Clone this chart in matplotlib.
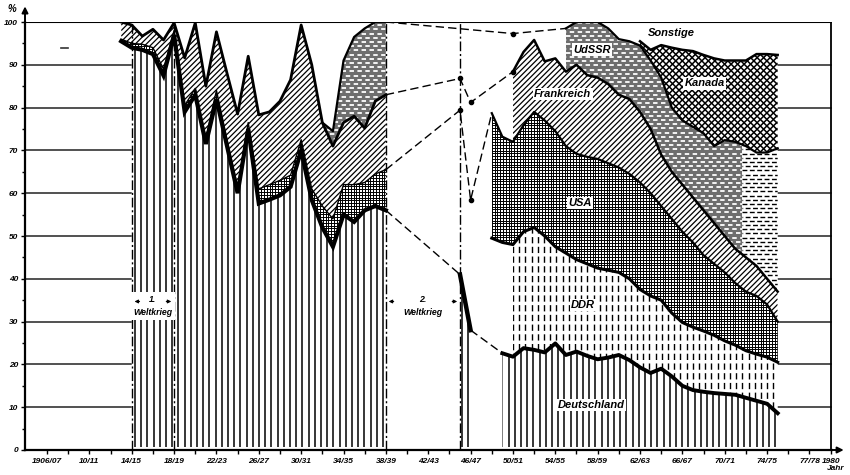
import numpy as np
import matplotlib
matplotlib.use('Agg')
import matplotlib.pyplot as plt
from matplotlib.patches import Polygon
from matplotlib.collections import LineCollection

plt.rcParams['lines.scale_dashes'] = False
plt.rcParams['font.family'] = ['Liberation Sans', 'DejaVu Sans']

# ---------------- data (cumulative upper boundaries, % of world production) -------------
years_a = list(range(1913, 1939))
de_top_a = [95.5, 94, 93.5, 92.5, 87.5, 97, 79, 83, 71.5, 82, 71, 60, 75, 57.6, 58.5, 59.5,
            61.5, 70, 58.4, 52, 47.5, 55, 53.3, 56, 57, 56]
usa_top_a = [96, 95, 94.8, 94, 89, 98, 80.5, 84.5, 73, 84, 72.5, 61.5, 76.5, 61, 62, 63,
             64.2, 72.5, 61, 57, 54, 62, 62, 62.5, 64.5, 65.5]
fr_top_a = [100, 99.3, 96.7, 98.3, 95.8, 99.8, 91.6, 99.8, 85, 97.7, 88, 78.5, 92, 78.3, 79,
            81.5, 86.5, 99.3, 90, 76.5, 71, 76.5, 78, 75.2, 81.5, 83]
ussr_years_a = list(range(1932, 1939))
ussr_top_a = [76.5, 74.5, 91, 96.5, 98.5, 100, 100]

war_years = [1945, 1946]
de_war = [41, 28]
usa_war = [79.4, 58.4]
fr_war = [86.8, 81.2]
top_1950 = 97.3

years_c = list(range(1948, 1976))
usa_top_c = [78.7, 73.2, 72, 75.9, 79, 77, 74.5, 71, 69.2, 68.5, 68, 67, 66, 64.5, 62.5, 60,
             57, 54, 51, 48.5, 45.5, 43.5, 41.5, 39, 37, 36, 34, 30]
ddr_top_c = [49.5, 48.5, 48, 51, 52, 50, 47.5, 46, 44.5, 43.5, 42.5, 42, 41.5, 40, 37.5, 36,
             35, 32, 29.8, 28.7, 27.8, 26.8, 25.5, 24.5, 23.2, 22.4, 21.7, 20.5]
de_years_c = list(range(1949, 1976))
de_top_c = [22.6, 21.8, 23.8, 23.4, 22.8, 24.9, 22.2, 23, 22, 21.2, 21.6, 22.2, 21, 19.3, 18,
            19, 17.2, 15, 14, 13.6, 13.3, 13.1, 12.9, 12.2, 11.5, 10.8, 8.6]
fr_years_c = list(range(1950, 1976))
fr_top_c = [88.4, 93, 95.8, 90.8, 91.5, 88.4, 90, 87.6, 87, 85.5, 83, 82, 79, 75, 69, 65, 62,
            59, 56, 53, 50, 47, 45, 43, 40, 37]
ussr_years_c = list(range(1955, 1976))
ussr_top_c = [98.5, 100, 100, 100, 98.5, 96, 95.5, 94.5, 91, 87, 80, 77, 75.5, 74, 71, 72.4,
              72, 71, 69.5, 69.5, 70.5]
ca_years = list(range(1962, 1976))
ca_top = [95.5, 93.5, 94.6, 94, 93.5, 93.2, 92.3, 91.5, 91, 91, 91, 92.5, 92.5, 92.3]

war_lines = [1914, 1918, 1938, 1945]
xt_years = [1906, 1910, 1914, 1918, 1922, 1926, 1930, 1934, 1938, 1942, 1946, 1950, 1954,
            1958, 1962, 1966, 1970, 1974, 1978, 1980]
xt_labels = ['1906/07', '10/11', '14/15', '18/19', '22/23', '26/27', '30/31', '34/35',
             '38/39', '42/43', '46/47', '50/51', '54/55', '58/59', '62/63', '66/67',
             '70/71', '74/75', '77/78', '1980']
yt = list(range(0, 101, 10))

# ---------------- figure ----------------
fig = plt.figure(figsize=(8.5, 4.75), dpi=100)
ax = fig.add_axes([25 / 850, 25 / 475, (832 - 25) / 850, 428 / 475])
X0, X1 = 1903.92, 1980.13
ax.set_xlim(X0, X1)
ax.set_ylim(0, 100)
for s in ['top', 'right']:
    ax.spines[s].set_visible(False)
ax.spines['left'].set_linewidth(1.6)
ax.spines['bottom'].set_linewidth(1.6)

p0 = ax.transData.transform((0, 0))
p1 = ax.transData.transform((1, 1))
PPX, PPY = p1[0] - p0[0], p1[1] - p0[1]


def sl(yrs, vals, a, b):
    idx = [i for i, y in enumerate(yrs) if a <= y <= b]
    return np.array([yrs[i] for i in idx], float), np.array([vals[i] for i in idx], float)


def patch(x, lo, hi, fc='white'):
    x = np.asarray(x, float)
    v = np.concatenate([np.column_stack([x, lo]), np.column_stack([x[::-1], np.asarray(hi)[::-1]])])
    p = Polygon(v, closed=True, facecolor=fc, edgecolor='none', zorder=1)
    ax.add_patch(p)
    return p


def add_lc(segs, clip, lw, ls='-', color='k', z=2):
    lc = LineCollection(segs, colors=color, linewidths=lw, linestyles=ls, zorder=z)
    ax.add_collection(lc)
    lc.set_clip_path(clip)
    return lc


def vpat(clip, x0, x1, sp, lw, ls='-', color='k', y0=0.8, y1=100):
    xs = np.arange(x0, x1 + 1e-6, sp / PPX)
    add_lc([[(x, y0), (x, y1)] for x in xs], clip, lw, ls, color)


def hpat(clip, x0, x1, y0, y1, sp, lw, ls='-', color='k'):
    ys = np.arange(y0, y1 + 1e-6, sp / PPY)
    add_lc([[(x0, y), (x1, y)] for y in ys], clip, lw, ls, color)


def dpat(clip, x0, x1, y0, y1, sp, lw, slope=1, color='k'):
    W = (x1 - x0) * PPX
    H = (y1 - y0) * PPY
    step = sp * np.sqrt(2)
    cs = np.arange(-W - step, H + W + step, step)
    segs = []
    for c in cs:
        if slope > 0:
            Ya, Yb = c, W + c
        else:
            Ya, Yb = c, c - W
        segs.append([(x0, y0 + Ya / PPY), (x1, y0 + Yb / PPY)])
    add_lc(segs, clip, lw, '-', color)


def cross(clip, x0, x1, y0, y1, sp, lw):
    vpat(clip, x0, x1, sp, lw, y0=y0, y1=y1)
    hpat(clip, x0, x1, y0, y1, sp, lw)


def ussr_fill(clip, x0, x1, y0, y1, split):
    # grey part with white dashes, later part white with black dashes
    xe = min(split, x1)
    g = ax.fill_between([x0, xe], y0, y1, color='#6e6e6e', lw=0, zorder=1.5)
    g.set_clip_path(clip)
    ys = np.arange(y0, y1 + 1e-6, 4.2 / PPY)
    for i, y in enumerate(ys):
        off = 0 if i % 2 == 0 else 3
        add_lc([[(x0, y), (xe, y)]], clip, 1.3, (off, (3.2, 2.5)), 'white')
        if split < x1:
            add_lc([[(split, y), (x1, y)]], clip, 1.0, (off, (3.5, 1.8)), 'black')


# ---------------- gridlines / frame ----------------
for v in yt[1:-1]:
    ax.plot([X0, years_a[1]], [v, v], color='#222222', lw=1.1, zorder=0.5)
    ax.plot([years_c[-1], 1980], [v, v], color='#222222', lw=1.1, zorder=0.5)
ax.plot([X0, 1980], [100, 100], color='k', lw=1.5, zorder=4)
ax.plot([1980, 1980], [0, 100], color='k', lw=1.3, zorder=4)
ax.plot([1907.3, 1908.0], [93.9, 93.9], color='#333333', lw=1.2, zorder=1)
for wy in war_lines:
    ax.plot([wy, wy], [0, 100], color='k', lw=1.0, ls=(0, (7, 2, 1.5, 2)), zorder=3.5)

# ---------------- period 1913-1938 ----------------
xa = np.array(years_a, float)
xd, d = sl(years_a, de_top_a, 1914, 1938)
pd_ = patch(xd, np.zeros_like(d), d)
vpat(pd_, 1914.3, 1938, 6.2, 1.1)
pu = patch(xa, de_top_a, usa_top_a)
cross(pu, 1913, 1938, 40, 100, 2.8, 0.7)
pf = patch(xa, usa_top_a, fr_top_a)
dpat(pf, 1913, 1938, 40, 100, 3.9, 0.9, slope=1)
fr_sub = sl(years_a, fr_top_a, 1932, 1938)[1]
pr = patch(ussr_years_a, fr_sub, ussr_top_a)
ussr_fill(pr, 1932, 1938, 60, 100, 2000)

ax.plot(xa, de_top_a, color='k', lw=3.0, zorder=3, solid_joinstyle='miter')
ax.plot(xa, usa_top_a, color='k', lw=1.0, zorder=3)
ax.plot(xa, fr_top_a, color='k', lw=2.0, zorder=3)
ax.plot(ussr_years_a, ussr_top_a, color='k', lw=1.6, zorder=3)

# ---------------- war years ----------------
pw = patch(war_years, [0, 0], de_war)
vpat(pw, 1945.2, 1946, 6.2, 1.1)
ax.plot(war_years, de_war, color='k', lw=3.2, zorder=3)

# ---------------- period 1948-1975 ----------------
xc = np.array(years_c, float)
pdc = patch(de_years_c, np.zeros(len(de_top_c)), de_top_c)
vpat(pdc, 1949, 1975, 6.2, 1.1)
xddr, ddr = sl(years_c, ddr_top_c, 1950, 1975)
pddr = patch(xddr, de_top_c[1:], ddr)
vpat(pddr, 1950, 1975, 6.2, 1.0, ls=(0, (4.5, 2.5)))
puc = patch(xc, ddr_top_c, usa_top_c)
cross(puc, 1948, 1975, 15, 85, 2.8, 0.7)
xf, ulo = sl(years_c, usa_top_c, 1950, 1975)
pfc = patch(fr_years_c, ulo, fr_top_c)
dpat(pfc, 1950, 1975, 25, 100, 3.9, 0.9, slope=1)
_, flo = sl(fr_years_c, fr_top_c, 1955, 1975)
prc = patch(ussr_years_c, flo, ussr_top_c)
ussr_fill(prc, 1955, 1975, 30, 100, 1971.6)
_, rlo = sl(ussr_years_c, ussr_top_c, 1962, 1975)
pca = patch(ca_years, rlo, ca_top)
pca.set_zorder(1.8)
dpat(pca, 1962, 1975, 60, 100, 4.6, 1.1, slope=1)
dpat(pca, 1962, 1975, 60, 100, 4.6, 1.1, slope=-1)

ax.plot(de_years_c, de_top_c, color='k', lw=2.8, zorder=3)
ax.plot(years_c, ddr_top_c, color='k', lw=2.2, zorder=3)
ax.plot(years_c, usa_top_c, color='k', lw=1.6, zorder=3)
ax.plot(fr_years_c, fr_top_c, color='k', lw=1.8, zorder=3)
ax.plot(ussr_years_c, ussr_top_c, color='k', lw=1.6, zorder=3)
ax.plot(ca_years, ca_top, color='k', lw=1.8, zorder=3)

# ---------------- dashed connectors ----------------
dash = (0, (6, 3))
ax.plot([years_a[-1], war_years[0]], [de_top_a[-1], de_war[0]], color='k', lw=1.0, ls=dash, zorder=3)
ax.plot([war_years[1], de_years_c[0]], [de_war[1], de_top_c[0]], color='k', lw=1.0, ls=dash, zorder=3)
ax.plot([years_a[-1]] + war_years + [years_c[0]], [usa_top_a[-1]] + usa_war + [usa_top_c[0]],
        color='k', lw=1.0, ls=dash, zorder=3)
ax.plot(war_years, usa_war, 'o', color='k', ms=3, zorder=3)
ax.plot([years_a[-1]] + war_years + [fr_years_c[0]], [fr_top_a[-1]] + fr_war + [fr_top_c[0]],
        color='k', lw=1.0, ls=dash, zorder=3)
ax.plot(war_years + [fr_years_c[0]], fr_war + [fr_top_c[0]], 'o', color='k', ms=3, zorder=3)
ax.plot([years_a[-1], 1950, ussr_years_c[0]], [ussr_top_a[-1], top_1950, ussr_top_c[0]],
        color='k', lw=1.0, ls=dash, zorder=3)
ax.plot([1950], [top_1950], 'o', color='k', ms=3, zorder=3)

# ---------------- labels ----------------
lab = dict(fontsize=8, fontweight='bold', fontstyle='italic', ha='center', va='center', zorder=6)
box = dict(facecolor='white', edgecolor='none', pad=1.0)
ax.text(1965.0, 97.4, 'Sonstige', **lab)
ax.text(1957.5, 93.5, 'UdSSR', bbox=box, **lab)
ax.text(1968.1, 85.7, 'Kanada', bbox=box, **lab)
ax.text(1954.7, 83.2, 'Frankreich', bbox=box, **lab)
ax.text(1956.3, 57.7, 'USA', bbox=box, **lab)
ax.text(1956.6, 33.9, 'DDR', bbox=box, **lab)
ax.text(1957.4, 10.5, 'Deutschland', bbox=box, **lab)

small = dict(fontsize=6.3, fontweight='bold', fontstyle='italic', ha='center', va='center', zorder=6)
for (a, b) in [(1914, 1918), (1938, 1945)]:
    c = (a + b) / 2
    ax.text(c, 33.6, '%d.\nWeltkrieg' % (1 if a == 1914 else 2), linespacing=1.6,
            bbox=dict(facecolor='white', edgecolor='none', pad=2.0), **small)
    ax.annotate('', xy=(a, 34.7), xytext=(a + 1.0, 34.7),
                arrowprops=dict(arrowstyle='-|>', lw=0.8, color='k', mutation_scale=5), zorder=7)
    ax.annotate('', xy=(b, 34.7), xytext=(b - 1.0, 34.7),
                arrowprops=dict(arrowstyle='-|>', lw=0.8, color='k', mutation_scale=5), zorder=7)

# axes arrows
ax.annotate('', xy=(X0, 104.3), xytext=(X0, 99), annotation_clip=False,
            arrowprops=dict(arrowstyle='-|>', lw=1.4, color='k', mutation_scale=9))
ax.annotate('', xy=(1981.5, 0), xytext=(1979.5, 0), annotation_clip=False,
            arrowprops=dict(arrowstyle='-|>', lw=1.4, color='k', mutation_scale=9))
fig.text(12 / 850, 1 - 9 / 475, '%', fontsize=7, fontweight='bold', fontstyle='italic',
         ha='center', va='center')
fig.text(836 / 850, 1 - 469 / 475, 'Jahr', fontsize=6, fontweight='bold', fontstyle='italic',
         ha='center', va='center')

# ticks
ax.set_xticks(xt_years)
ax.set_xticklabels(xt_labels, fontsize=6, fontweight='bold', fontstyle='italic')
ax.set_xticks(list(range(1906, 1981, 2)), minor=True)
ax.set_yticks(yt)
ax.set_yticklabels([str(v) for v in yt], fontsize=6, fontweight='bold', fontstyle='italic')
ax.set_yticks(list(range(5, 100, 10)), minor=True)
ax.tick_params(axis='both', which='both', direction='out', width=1.0, color='k')
ax.tick_params(axis='x', which='both', length=3, pad=3)
ax.tick_params(axis='y', which='major', length=3, pad=2)
ax.tick_params(axis='y', which='minor', length=2)

fig.savefig('out.png', dpi=100)
